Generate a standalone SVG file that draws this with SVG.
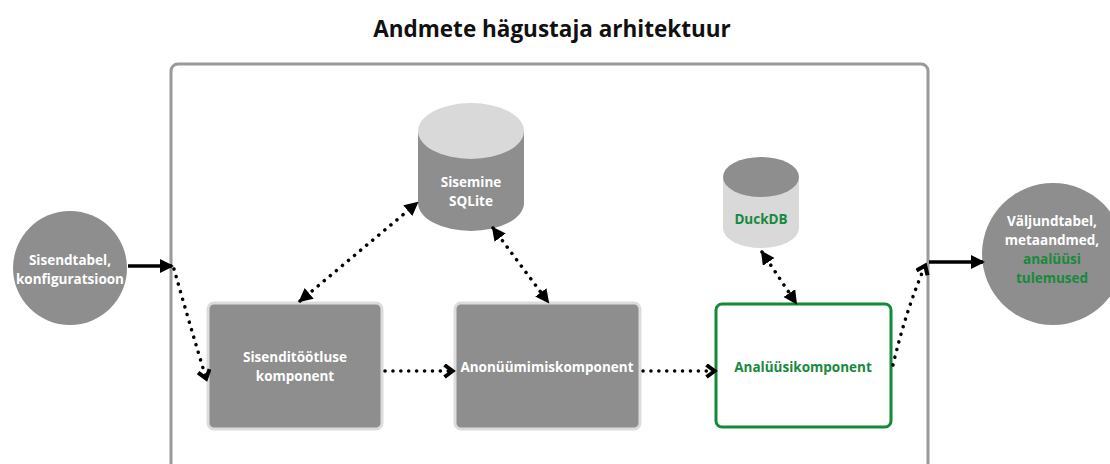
<svg xmlns="http://www.w3.org/2000/svg" width="1110" height="464" viewBox="0 0 1110 464">
  <style>
    .t { font-family: "Open Sans", "Liberation Sans", sans-serif; font-weight: bold; font-size: 13.5px; text-anchor: middle; }
    .w { fill: #ffffff; }
    .g { fill: #168a3c; }
    .box { fill: #8e8e8e; stroke: #dcdcdc; stroke-width: 3; }
    .dot { fill: none; stroke: #000; stroke-width: 3.5; stroke-linecap: round; stroke-dasharray: 0.1 7.8; }
    .solid { fill: none; stroke: #000; stroke-width: 3.5; }
  </style>
  <defs>
    <marker id="tri" markerUnits="userSpaceOnUse" markerWidth="16" markerHeight="16" refX="12" refY="7" orient="auto-start-reverse" viewBox="0 0 16 16">
      <path d="M0,0 L14,7 L0,14 z" fill="#000"/>
    </marker>
    <marker id="chev" markerUnits="userSpaceOnUse" markerWidth="14" markerHeight="16" refX="9" refY="7" orient="auto" viewBox="0 0 14 16">
      <path d="M1.5,1 L9.5,7 L1.5,13" fill="none" stroke="#000" stroke-width="4"/>
    </marker>
  </defs>
  <rect width="1110" height="464" fill="#ffffff"/>
  <text x="552" y="37" font-family="'Open Sans', 'Liberation Sans', sans-serif" font-weight="bold" font-size="22.5" text-anchor="middle" fill="#111">Andmete hägustaja arhitektuur</text>
  <g id="container">
    <rect x="171" y="64" width="757" height="430" rx="7" fill="none" stroke="#9a9a9a" stroke-width="3"/>
  </g>
  <g id="input">
    <circle cx="70" cy="268" r="57" fill="#8e8e8e"/>
    <text class="t w" x="70" y="265">Sisendtabel,</text>
    <text class="t w" x="70" y="284">konfiguratsioon</text>
  </g>
  <g id="output">
    <circle cx="1053" cy="254" r="71" fill="#8e8e8e"/>
    <text class="t w" x="1052" y="226">Väljundtabel,</text>
    <text class="t w" x="1052" y="245">metaandmed,</text>
    <text class="t g" x="1052" y="264">analüüsi</text>
    <text class="t g" x="1052" y="283">tulemused</text>
  </g>
  <g id="sqlite">
    <path d="M418,131 L418,203 A53,28 0 0 0 524,203 L524,131 z" fill="#8e8e8e"/>
    <ellipse cx="471" cy="131" rx="53" ry="28" fill="#d9d9d9"/>
    <text class="t w" x="471" y="187">Sisemine</text>
    <text class="t w" x="471" y="206">SQLite</text>
  </g>
  <g id="duckdb">
    <path d="M723,177 L723,228 A38,20 0 0 0 799,228 L799,177 z" fill="#d9d9d9"/>
    <ellipse cx="761" cy="177" rx="38" ry="20" fill="#8e8e8e"/>
    <text class="t g" x="761" y="224">DuckDB</text>
  </g>
  <g id="sisend">
    <rect class="box" x="208" y="303" width="174" height="126" rx="6"/>
    <text class="t w" x="295" y="362">Sisenditöötluse</text>
    <text class="t w" x="295" y="381">komponent</text>
  </g>
  <g id="anon">
    <rect class="box" x="455" y="303" width="185" height="126" rx="6"/>
    <text class="t w" x="547" y="372">Anonüümimiskomponent</text>
  </g>
  <g id="analyys">
    <rect x="716" y="304" width="175" height="123" rx="6" fill="#ffffff" stroke="#118a3a" stroke-width="3"/>
    <text class="t g" x="803" y="372">Analüüsikomponent</text>
  </g>
  <g id="connectors">
    <path class="solid" d="M128,266 L172,266" marker-end="url(#tri)"/>
    <path class="solid" d="M929,262 L983,262" marker-end="url(#tri)"/>
    <path class="dot" d="M174,269 Q189,322 206,378" marker-end="url(#chev)"/>
    <path class="dot" d="M385,371 L452,371" marker-end="url(#chev)"/>
    <path class="dot" d="M643,371 L714,371" marker-end="url(#chev)"/>
    <path class="dot" d="M893,365 Q906,310 925,266" marker-end="url(#chev)"/>
    <path class="dot" d="M300,301 L417,203" marker-start="url(#tri)" marker-end="url(#tri)"/>
    <path class="dot" d="M493,228 L548,302" marker-start="url(#tri)" marker-end="url(#tri)"/>
    <path class="dot" d="M762,252 L796,303" marker-start="url(#tri)" marker-end="url(#tri)"/>
  </g>
</svg>
